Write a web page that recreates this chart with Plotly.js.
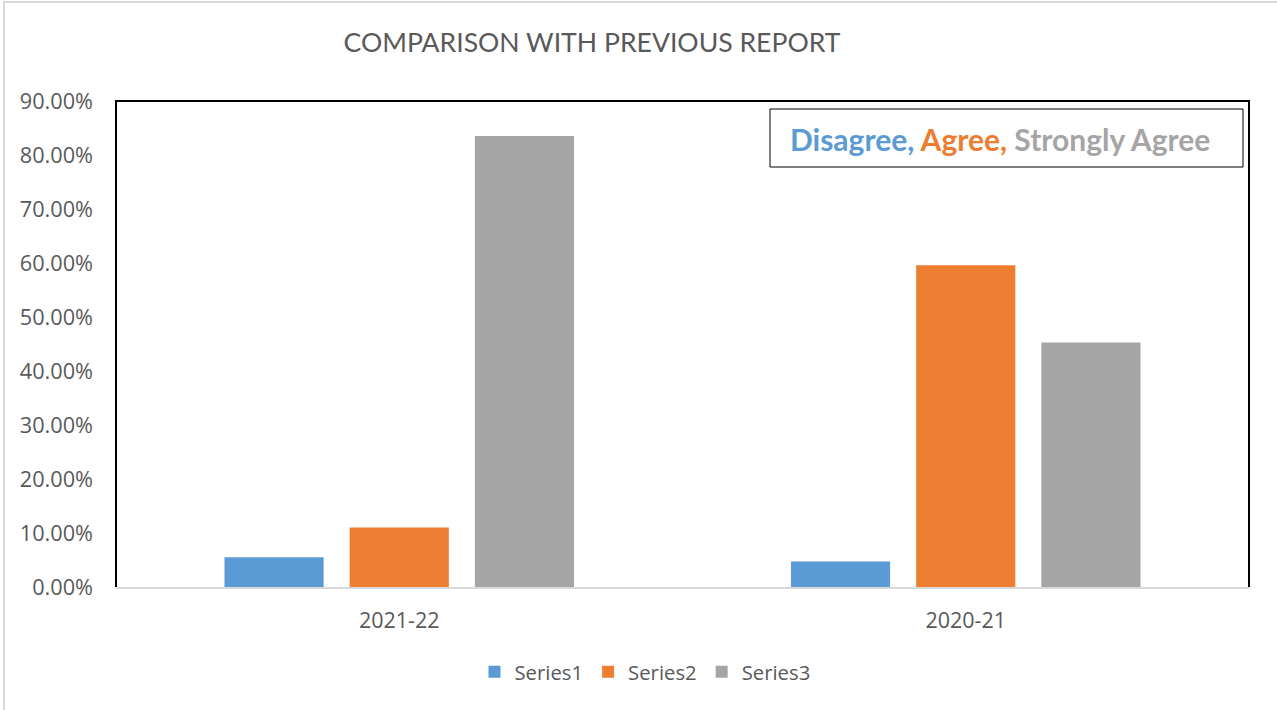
<!DOCTYPE html>
<html>
<head>
<meta charset="utf-8">
<script src="https://cdn.plot.ly/plotly-3.0.1.min.js"></script>
<style>
html,body{margin:0;padding:0;background:#fff;}
#wrap{position:absolute;left:0;top:0;width:1277px;height:710px;}
#frame{position:absolute;left:3px;top:1px;width:1274px;height:709px;border-left:2px solid #d9d9d9;border-top:2px solid #d9d9d9;pointer-events:none;z-index:5;}
#chart{position:absolute;left:0;top:0;width:1277px;height:710px;}
</style>
</head>
<body>
<div id="wrap"><div id="chart"></div><div id="frame"></div></div>
<script>
const categories = ["2021-22", "2020-21"];
const series1 = [0.055, 0.047];
const series2 = [0.110, 0.596];
const series3 = [0.835, 0.453];
const seriesNames = ["Series1", "Series2", "Series3"];
const seriesColors = ["#5B9BD5", "#ED7D31", "#A5A5A5"];
const yTickVals = [0, 0.1, 0.2, 0.3, 0.4, 0.5, 0.6, 0.7, 0.8, 0.9];

const FONT = "'Open Sans', Lato, sans-serif";
const TFONT = "Lato, 'Open Sans', sans-serif";
const W = 1277, H = 710;
const L = 116, R = 1249, T = 101, B = 587;

const traces = [series1, series2, series3].map((vals, i) => ({
  type: "bar",
  x: categories,
  y: vals,
  name: seriesNames[i],
  marker: {color: seriesColors[i]},
  hoverinfo: "skip"
}));

const px = x => (x - L) / (R - L);
const py = y => (B - y) / (B - T);

const layout = {
  width: W, height: H,
  paper_bgcolor: "#ffffff",
  plot_bgcolor: "#ffffff",
  margin: {l: L, r: W - R, t: T, b: H - B, pad: 0},
  barmode: "group",
  bargap: 0.337,
  bargroupgap: 0.208,
  font: {family: FONT, color: "#595959", size: 21},
  title: {
    text: "COMPARISON WITH PREVIOUS REPORT",
    font: {family: TFONT, size: 26.6, color: "#595959"},
    x: 592 / W, xanchor: "center", xref: "container",
    y: 1 - 43 / H, yanchor: "middle", yref: "container"
  },
  xaxis: {
    type: "category",
    showline: true, linecolor: "#d9d9d9", linewidth: 2,
    showgrid: false, zeroline: false,
    ticks: "", ticklabelstandoff: 13,
    tickfont: {family: FONT, size: 21.5, color: "#595959"},
    fixedrange: true
  },
  yaxis: {
    range: [0, 0.9],
    tickvals: yTickVals,
    tickformat: ".2%",
    showgrid: false, zeroline: false, showline: false,
    ticks: "", ticklabelstandoff: 22,
    tickfont: {family: FONT, size: 21.7, color: "#595959"},
    fixedrange: true
  },
  showlegend: true,
  legend: {
    orientation: "h",
    x: 645 / W, xanchor: "center", xref: "container",
    y: 1 - 672 / H, yanchor: "middle", yref: "container",
    font: {family: FONT, size: 20.3, color: "#595959"},
    itemwidth: 30,
    traceorder: "normal"
  },
  shapes: [
    {type: "path", xref: "paper", yref: "paper",
     path: "M0,0 L0,1 L1,1 L1,0",
     line: {color: "#000000", width: 2}, layer: "below"},
    {type: "rect", xref: "paper", yref: "paper",
     x0: px(770), x1: px(1243), y0: py(167), y1: py(109),
     line: {color: "#000000", width: 1}, fillcolor: "#ffffff", layer: "above"}
  ],
  annotations: [
    {xref: "paper", yref: "paper",
     x: px(1000), y: py(139), xanchor: "center", yanchor: "middle",
     showarrow: false,
     font: {family: TFONT, size: 30},
     text: "<b><span style='color:#5B9BD5'>Disagree,</span> <span style='color:#ED7D31'>Agree,</span> <span style='color:#A5A5A5'>Strongly Agree</span></b>"}
  ]
};

Plotly.newPlot("chart", traces, layout, {displayModeBar: false, staticPlot: true});
</script>
</body>
</html>
